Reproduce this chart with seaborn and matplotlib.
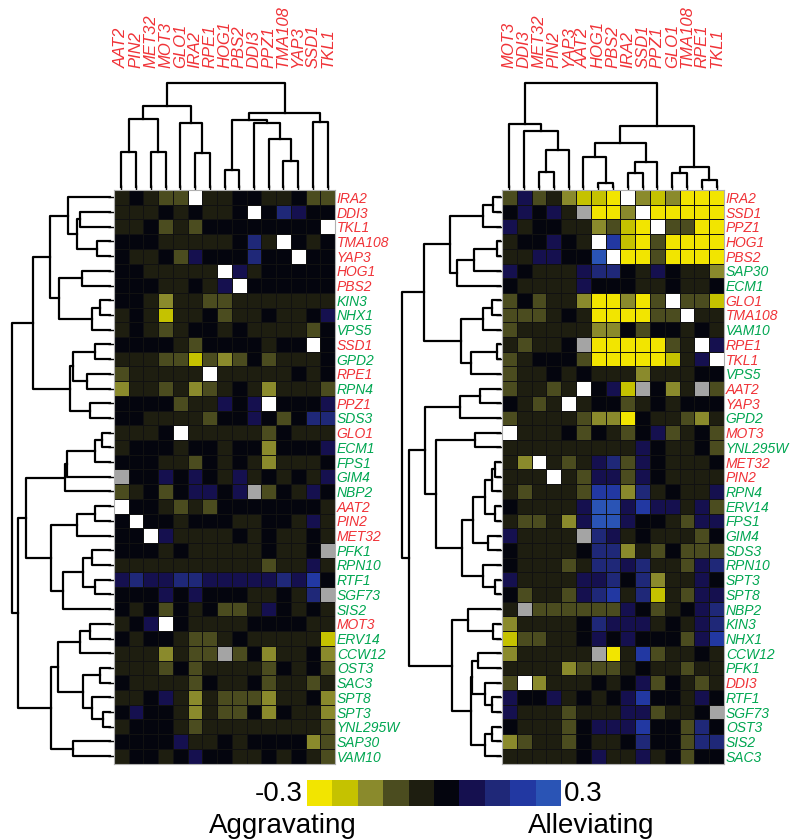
import numpy as np
import pandas as pd
import matplotlib
matplotlib.use("Agg")
import matplotlib.pyplot as plt
from matplotlib.colors import ListedColormap
import seaborn as sns

plt.rcParams['font.family'] = ['Liberation Sans', 'DejaVu Sans']

# ---------------- data ----------------
left_cols = ['AAT2', 'PIN2', 'MET32', 'MOT3', 'GLO1', 'IRA2', 'RPE1', 'HOG1',
             'PBS2', 'DDI3', 'PPZ1', 'TMA108', 'YAP3', 'SSD1', 'TKL1']
left_rows = ['IRA2', 'DDI3', 'TKL1', 'TMA108', 'YAP3', 'HOG1', 'PBS2', 'KIN3',
             'NHX1', 'VPS5', 'SSD1', 'GPD2', 'RPE1', 'RPN4', 'PPZ1', 'SDS3',
             'GLO1', 'ECM1', 'FPS1', 'GIM4', 'NBP2', 'AAT2', 'PIN2', 'MET32',
             'PFK1', 'RPN10', 'RTF1', 'SGF73', 'SIS2', 'MOT3', 'ERV14', 'CCW12',
             'OST3', 'SAC3', 'SPT8', 'SPT3', 'YNL295W', 'SAP30', 'VAM10']
right_cols = ['MOT3', 'DDI3', 'MET32', 'PIN2', 'YAP3', 'AAT2', 'HOG1', 'PBS2',
              'IRA2', 'SSD1', 'PPZ1', 'GLO1', 'TMA108', 'RPE1', 'TKL1']
right_rows = ['IRA2', 'SSD1', 'PPZ1', 'HOG1', 'PBS2', 'SAP30', 'ECM1', 'GLO1',
              'TMA108', 'VAM10', 'RPE1', 'TKL1', 'VPS5', 'AAT2', 'YAP3', 'GPD2',
              'MOT3', 'YNL295W', 'MET32', 'PIN2', 'RPN4', 'ERV14', 'FPS1', 'GIM4',
              'SDS3', 'RPN10', 'SPT3', 'SPT8', 'NBP2', 'KIN3', 'NHX1', 'CCW12',
              'PFK1', 'DDI3', 'RTF1', 'SGF73', 'OST3', 'SIS2', 'SAC3']

# one char per cell: 0 = strongest aggravating (-0.3) ... 9 = strongest alleviating (0.3)
# W = gene with itself (white), - = not measured (grey)
left_cells = [
    "45433W445544533", "444545445W57655", "44534355555555W", "55544444574W545",
    "544536555755W55", "5544444W6455555", "55544546W555555", "554244334444444",
    "454144534454456", "454345545444435", "5555435555455W5", "444331323534445",
    "344444W44444545", "244342345424443", "5555344656W5556", "554444355653577",
    "4445W4444435444", "455545545525556", "555443545424445", "-55656546454546",
    "345356656-35465", "W55434355555554", "5W5545554455464", "55W644445454454",
    "55545444445445-", "444444444434464", "676677666667685", "55565655544547-",
    "545354533465454", "456W54444555544", "545543345444441", "4442433-3524452",
    "444353444435453", "544443544534434", "445642433324452", "565542433525442",
    "455543444444443", "555564454555523", "455456554454543"]
right_cells = [
    "36342110W212000", "56564-002W00000", "6455442310W3300", "455654W81030000",
    "4466559W0030000", "654446775465442", "544446555445445", "35344200203W331",
    "333454000033W44", "344444225355454", "43445-0000034W6", "34555300000146W",
    "344545444244455", "34434W561-524-3", "5434W4553454555", "344443220544324",
    "W44453543563453", "444444444654453", "42W434673654445", "444W43663654444",
    "434443882745446", "544446996866463", "433426996554366", "64444-764544435",
    "544445772435333", "544434776744367", "644446675724465", "534436784714366",
    "4-3333336534567", "244445766645467", "133445656555368", "244444-04834454",
    "444423334544344", "3W2444545635434", "655645456855465", "64443444663445-",
    "544435666855375", "234435445755377", "444445644645355"]

# merge trees: (left, right, merge height)
left_col_tree = (
    ((('AAT2', 'PIN2', 105), ('MET32', 'MOT3', 105), 207),
     ('GLO1', ('IRA2', 'RPE1', 103), 195), 245),
    ((('HOG1', 'PBS2', 53),
      ('DDI3', ('PPZ1', ('TMA108', 'YAP3', 78), 145), 195), 203),
     ('SSD1', 'TKL1', 197), 225),
    315)
right_col_tree = (
    ('MOT3', ('DDI3', (('MET32', 'PIN2', 47), 'YAP3', 112), 170), 193),
    ((('AAT2', ('HOG1', 'PBS2', 12), 92), (('IRA2', 'SSD1', 43), 'PPZ1', 75), 135),
     (('GLO1', 'TMA108', 43), ('RPE1', 'TKL1', 20), 62), 185),
    317)
left_row_tree = (
    ((('IRA2', (('DDI3', 'TKL1', 90), ('TMA108', 'YAP3', 40), 100), 125),
      (('HOG1', 'PBS2', 85), (('KIN3', 'NHX1', 30), 'VPS5', 55), 152), 180),
     (((('SSD1', 'GPD2', 45), ('RPE1', 'RPN4', 70), 110), ('PPZ1', 'SDS3', 60), 120)),
     230),
    ((((((('GLO1', 'ECM1', 25), 'FPS1', 45), 'GIM4', 130), 'NBP2', 135)),
      ((('AAT2', 'PIN2', 45), 'MET32', 100),
       (((('PFK1', 'RPN10', 55), ('RTF1', 'SGF73', 45), 80), 'SIS2', 140)), 175),
      250),
     ((((('MOT3', 'ERV14', 60), 'CCW12', 90),
        (('OST3', 'SAC3', 30), ('SPT8', ('SPT3', 'YNL295W', 20), 55), 80), 155)),
      ('SAP30', 'VAM10', 110), 175),
     275),
    293)
right_row_tree = (
    (((('IRA2', 'SSD1', 20), 'PPZ1', 50),
      ((('HOG1', 'PBS2', 10), 'SAP30', 77), 'ECM1', 130), 150),
     ((('GLO1', 'TMA108', 25), 'VAM10', 50), (('RPE1', 'TKL1', 10), 'VPS5', 87), 117),
     230),
    (((('AAT2', 'YAP3', 60), 'GPD2', 120),
      (('MOT3', 'YNL295W', 75),
       ((((('MET32', 'PIN2', 15), 'RPN4', 25), ('ERV14', 'FPS1', 15), 45),
         ('GIM4', 'SDS3', 35), 80),
        ('RPN10', ('SPT3', 'SPT8', 15), 50), 115), 193), 225),
     (('NBP2', ('KIN3', 'NHX1', 20), 95),
      (((('CCW12', 'PFK1', 65), ('DDI3', ('RTF1', 'SGF73', 25), 45), 83)),
       (('OST3', 'SIS2', 25), 'SAC3', 45), 87), 145),
     275),
    295)

key_colors = ['#f2e500', '#c5c200', '#8a8a2c', '#4b4c1f', '#1e1e10',
              '#04050e', '#15104f', '#1f2878', '#2238a2', '#2a54b5']
levels = np.linspace(-0.27, 0.27, 10)

RED = '#f03237'
GREEN = '#00a651'
W, H = 807, 840
cmap = ListedColormap(key_colors)


def box(x0, y0, x1, y1):
    return [x0 / W, 1 - y1 / H, (x1 - x0) / W, (y1 - y0) / H]


def decode(cells):
    vals = np.full((len(cells), len(cells[0])), np.nan)
    flag = np.full(vals.shape, np.nan)
    for i, row in enumerate(cells):
        for j, c in enumerate(row):
            if c == 'W':
                flag[i, j] = 1
            elif c == '-':
                flag[i, j] = 0
            else:
                vals[i, j] = levels[int(c)]
    return vals, flag


def draw_tree(ax, node, order, top):
    if isinstance(node, str):
        return order.index(node) + 0.5, 0.0
    a, b, h = node
    pa, ha = draw_tree(ax, a, order, top)
    pb, hb = draw_tree(ax, b, order, top)
    pos, hgt = [pa, pa, pb, pb], [ha, h, h, hb]
    if top:
        ax.plot(pos, hgt, color='black', lw=1.6, clip_on=False)
    else:
        ax.plot(hgt, pos, color='black', lw=1.6, clip_on=False)
    return (pa + pb) / 2, h


def draw_heat(ax, cells, rows, cols):
    vals, flag = decode(cells)
    sns.heatmap(pd.DataFrame(vals, index=rows, columns=cols), ax=ax, cmap=cmap,
                vmin=-0.3, vmax=0.3, cbar=False, linewidths=0.5, linecolor='#111111')
    sns.heatmap(flag, ax=ax, cmap=ListedColormap(['#a4a4a4', 'white']), vmin=0, vmax=1,
                cbar=False, linewidths=0.5, linecolor='#111111')
    for s in ax.spines.values():
        s.set_visible(True)
        s.set_color('#b0b0b0')
        s.set_linewidth(0.8)
    ax.set_xticks(np.arange(len(cols)) + 0.5)
    ax.set_xticklabels(cols, rotation=90, fontstyle='italic', fontsize=12, color=RED)
    ax.set_yticks(np.arange(len(rows)) + 0.5)
    ax.set_yticklabels(rows, rotation=0, fontstyle='italic', fontsize=10)
    ax.tick_params(axis='x', top=True, bottom=False, labeltop=True, labelbottom=False,
                   length=3.5, width=1, pad=84)
    ax.tick_params(axis='y', left=True, right=False, labelleft=False, labelright=True,
                   length=4.5, width=1, pad=-3.2)
    ax.set_xlabel('')
    ax.set_ylabel('')
    for tick, name in zip(ax.yaxis.get_major_ticks(), rows):
        tick.label2.set_color(RED if name in cols else GREEN)


fig = plt.figure(figsize=(W / 100, H / 100), dpi=100)

panels = [
    (114, 335, 12, 110, left_cells, left_rows, left_cols, left_col_tree, left_row_tree),
    (502, 724, 402, 500, right_cells, right_rows, right_cols, right_col_tree, right_row_tree),
]
for x0, x1, d0, d1, cells, rows, cols, ctree, rtree in panels:
    ax = fig.add_axes(box(x0, 190, x1, 763.5))
    draw_heat(ax, cells, rows, cols)

    tax = fig.add_axes(box(x0, 83, x1, 187))
    draw_tree(tax, ctree, cols, True)
    tax.set_xlim(0, len(cols))
    tax.set_ylim(0, ctree[2])
    tax.axis('off')

    rax = fig.add_axes(box(d0, 190, d1, 763.5))
    draw_tree(rax, rtree, rows, False)
    rax.set_ylim(len(rows), 0)
    rax.set_xlim(rtree[2], 0)
    rax.axis('off')

# colour key
cax = fig.add_axes(box(307, 780, 561, 806))
sns.heatmap(np.array([levels]), ax=cax, cmap=cmap, vmin=-0.3, vmax=0.3, cbar=False,
            xticklabels=False, yticklabels=False)
fig.text(303 / W, 1 - 794 / H, '-0.3', ha='right', va='center', fontsize=20)
fig.text(564 / W, 1 - 794 / H, '0.3', ha='left', va='center', fontsize=20)
fig.text(283 / W, 1 - 826 / H, 'Aggravating', ha='center', va='center', fontsize=20)
fig.text(528 / W, 1 - 826 / H, 'Alleviating', ha='left', va='center', fontsize=20)

fig.savefig('out.png', dpi=100)
